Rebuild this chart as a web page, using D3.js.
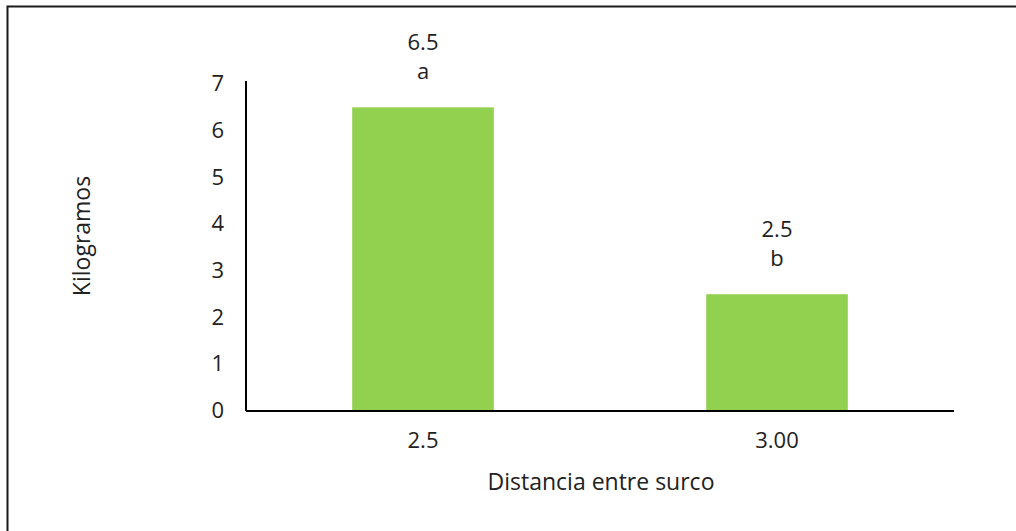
<!DOCTYPE html>
<html>
<head>
<meta charset="utf-8">
<script src="https://cdn.jsdelivr.net/npm/d3@7"></script>
<style>
  html, body { margin: 0; padding: 0; background: #fff; }
  svg { display: block; font-family: "Open Sans", sans-serif; }
</style>
</head>
<body>
<svg id="chart" width="1016" height="531"></svg>
<script>
// Rendimiento por distancia entre surcos
const categories = ["2.5", "3.00"];
const values = [6.5, 2.5];
const valueLabels = ["6.5", "2.5"];
const groupLetters = ["a", "b"];
const yTicks = [0, 1, 2, 3, 4, 5, 6, 7];

const svg = d3.select("#chart");
const W = 1016, H = 531;
const margin = { left: 246, right: 62, top: 84, bottom: 120 };
const plotW = W - margin.left - margin.right;
const plotH = H - margin.top - margin.bottom;

// outer frame
svg.append("rect")
  .attr("x", 7.5).attr("y", 6.5)
  .attr("width", W + 20).attr("height", H + 20)
  .attr("fill", "#fff").attr("stroke", "#1a1a1a").attr("stroke-width", 2);

const g = svg.append("g").attr("transform", `translate(${margin.left},${margin.top})`);

const x = d3.scaleBand().domain(categories).range([0, plotW]).paddingInner(0.6).paddingOuter(0.3);
const y = d3.scaleLinear().domain([0, 7]).range([plotH, 0]);

// bars
g.selectAll("rect.bar").data(values).join("rect")
  .attr("class", "bar")
  .attr("x", (d, i) => x(categories[i]))
  .attr("y", d => y(d))
  .attr("width", x.bandwidth())
  .attr("height", d => plotH - y(d))
  .attr("fill", "#92D050");

// y axis
const yAxis = g.append("g").call(d3.axisLeft(y).tickValues(yTicks).tickSize(0).tickPadding(22).tickFormat(d3.format("d")));
yAxis.select(".domain").attr("stroke", "#000").attr("stroke-width", 2).attr("d", `M0,${y(7) - 3}V${plotH}`);
yAxis.selectAll("text").attr("font-size", 22).attr("fill", "#222").attr("font-family", "Open Sans").attr("dy", "0.3em");

// x axis
const xAxis = g.append("g").attr("transform", `translate(0,${plotH})`)
  .call(d3.axisBottom(x).tickSize(0).tickPadding(21));
xAxis.select(".domain").attr("stroke", "#000").attr("stroke-width", 2).attr("d", `M0,0H${plotW}`);
xAxis.selectAll("text").attr("font-size", 22).attr("fill", "#222").attr("font-family", "Open Sans");

// value labels with group letters
const lbl = g.selectAll("g.lbl").data(values).join("g").attr("class", "lbl")
  .attr("transform", (d, i) => `translate(${x(categories[i]) + x.bandwidth() / 2},${y(d)})`);
lbl.append("text").attr("y", -57).attr("text-anchor", "middle")
  .attr("font-size", 22).attr("fill", "#222").text((d, i) => valueLabels[i]);
lbl.append("text").attr("y", -28).attr("text-anchor", "middle")
  .attr("font-size", 22).attr("fill", "#222").text((d, i) => groupLetters[i]);

// axis titles
svg.append("text").attr("x", 601).attr("y", 490).attr("text-anchor", "middle")
  .attr("font-size", 23).attr("fill", "#222").text("Distancia entre surco");
svg.append("text").attr("transform", "translate(90,236) rotate(-90)").attr("text-anchor", "middle")
  .attr("font-size", 23).attr("fill", "#222").text("Kilogramos");
</script>
</body>
</html>
